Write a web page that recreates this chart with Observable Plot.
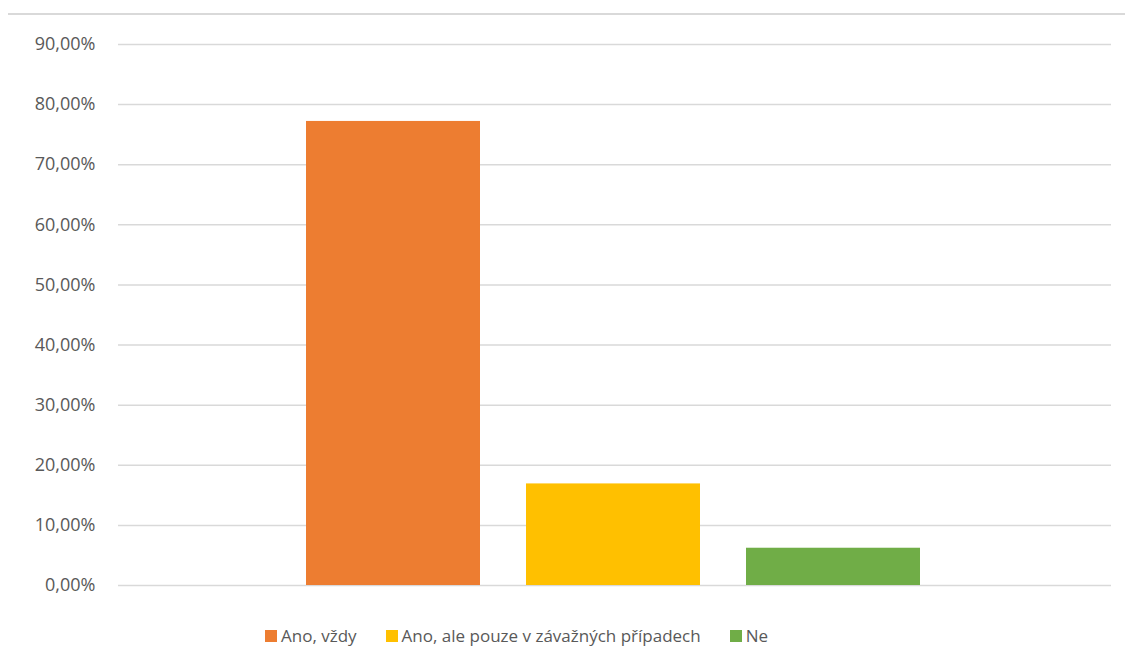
<!DOCTYPE html>
<html>
<head>
<meta charset="utf-8">
<script src="https://cdn.jsdelivr.net/npm/d3@7"></script>
<script src="https://cdn.jsdelivr.net/npm/@observablehq/plot@0.6"></script>
<style>
  html, body { margin: 0; padding: 0; background: #fff; }
  body { width: 1125px; height: 669px; position: relative; overflow: hidden; font-family: "Open Sans", "Noto Sans", sans-serif; }
  #frame { position: absolute; left: 8px; right: 0; top: 13px; border-top: 2px solid #d9d9d9; }
  #chart { position: absolute; left: 0; top: 0; }
  #legend { position: absolute; left: 265px; top: 624px; display: flex; align-items: center; font-size: 17px; color: #595959; white-space: nowrap; }
  .item { display: flex; align-items: center; margin-right: 29px; }
  .sw { width: 12px; height: 12px; margin-right: 4px; }
</style>
</head>
<body>
<div id="frame"></div>
<div id="chart"></div>
<div id="legend"></div>
<script>
const categories = ["Ano, vždy", "Ano, ale pouze v závažných případech", "Ne"];
const values = [77.2, 16.9, 6.2];
const colors = ["#ED7D31", "#FFC000", "#70AD47"];
const yTicks = [0, 10, 20, 30, 40, 50, 60, 70, 80, 90];

const data = categories.map((c, i) => ({category: c, value: values[i]}));
const fmt = d => d.toFixed(2).replace(".", ",") + "%";

const plot = Plot.plot({
  width: 1125,
  height: 610,
  marginLeft: 118,
  marginRight: 14,
  marginTop: 44,
  marginBottom: 25,
  style: {fontFamily: "'Open Sans', 'Noto Sans', sans-serif", fontSize: "18px", color: "#595959", background: "transparent"},
  x: {domain: categories, paddingInner: 0.209, paddingOuter: 0.86, align: 0.495, axis: null},
  y: {domain: [0, 90], ticks: yTicks, tickFormat: fmt, tickSize: 0, tickPadding: 22, label: null},
  color: {domain: categories, range: colors},
  marks: [
    Plot.ruleY(yTicks, {stroke: "#d9d9d9", strokeWidth: 1.5}),
    Plot.barY(data, {x: "category", y: "value", fill: "category"}),
    Plot.axisY({ticks: yTicks, tickFormat: fmt, tickSize: 0, tickPadding: 23, label: null, fill: "#595959", fontSize: 18})
  ]
});
document.getElementById("chart").appendChild(plot);

const legend = document.getElementById("legend");
categories.forEach((c, i) => {
  const item = document.createElement("div");
  item.className = "item";
  const sw = document.createElement("span");
  sw.className = "sw";
  sw.style.background = colors[i];
  const t = document.createElement("span");
  t.textContent = c;
  item.appendChild(sw);
  item.appendChild(t);
  legend.appendChild(item);
});
</script>
</body>
</html>
